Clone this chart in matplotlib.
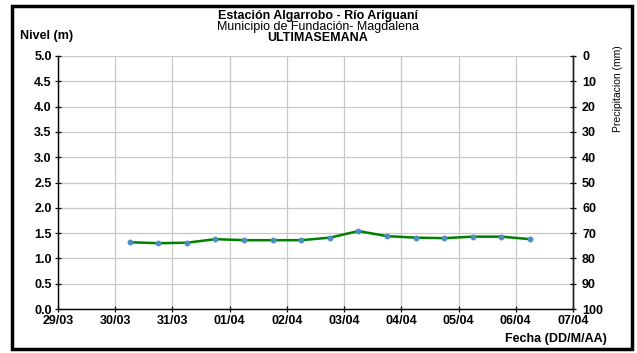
import matplotlib
matplotlib.use("Agg")
import matplotlib.pyplot as plt
import matplotlib.dates as mdates
from matplotlib.patches import Rectangle
import datetime as dt

plt.rcParams['font.family'] = ['Liberation Sans', 'DejaVu Sans']

# Data: level readings every 12 h
times = ["2023-03-30 06:00", "2023-03-30 18:00", "2023-03-31 06:00", "2023-03-31 18:00",
         "2023-04-01 06:00", "2023-04-01 18:00", "2023-04-02 06:00", "2023-04-02 18:00",
         "2023-04-03 06:00", "2023-04-03 18:00", "2023-04-04 06:00", "2023-04-04 18:00",
         "2023-04-05 06:00", "2023-04-05 18:00", "2023-04-06 06:00"]
nivel = [1.32, 1.30, 1.31, 1.38, 1.36, 1.36, 1.36, 1.41, 1.54, 1.44, 1.41, 1.40, 1.43, 1.43, 1.38]
x_ticks = ["2023-03-29", "2023-03-30", "2023-03-31", "2023-04-01", "2023-04-02",
           "2023-04-03", "2023-04-04", "2023-04-05", "2023-04-06", "2023-04-07"]
y_left_ticks = [0.0, 0.5, 1.0, 1.5, 2.0, 2.5, 3.0, 3.5, 4.0, 4.5, 5.0]
y_right_ticks = [0, 10, 20, 30, 40, 50, 60, 70, 80, 90, 100]

t = [dt.datetime.strptime(s, "%Y-%m-%d %H:%M") for s in times]
xt = [dt.datetime.strptime(s, "%Y-%m-%d") for s in x_ticks]

FS = 9

fig = plt.figure(figsize=(6.37, 3.53), dpi=100)
ax = fig.add_axes([58/637, 1-309/353, (573-58)/637, (309-56)/353])

ax.plot(t, nivel, color='#008000', lw=1.8, zorder=3)
ax.plot(t, nivel, ls='none', marker='o', ms=3.2, mfc='#4a8fc0', mec='#4a8fc0', zorder=4)

ax.set_xlim(xt[0], xt[-1])
ax.set_ylim(0, 5)
ax.set_xticks(xt)
ax.xaxis.set_major_formatter(mdates.DateFormatter('%d/%m'))
ax.set_yticks(y_left_ticks)
ax.set_yticklabels([f"{v:.1f}" for v in y_left_ticks])
ax.grid(True, color='#c8c8c8', lw=0.9)
ax.set_axisbelow(True)
ax.spines['top'].set_visible(False)
for s in ['left', 'bottom', 'right']:
    ax.spines[s].set_linewidth(1.0)
    ax.spines[s].set_color('#222222')
ax.tick_params(axis='both', direction='inout', length=5, width=0.9, labelsize=FS, pad=2)
for lab in ax.get_xticklabels() + ax.get_yticklabels():
    lab.set_fontweight('bold')

ax2 = ax.twinx()
ax2.set_ylim(100, 0)
ax2.set_yticks(y_right_ticks)
ax2.tick_params(axis='y', direction='inout', length=5, width=0.9, labelsize=FS, pad=4)
for lab in ax2.get_yticklabels():
    lab.set_fontweight('bold')
ax2.spines['top'].set_visible(False)
ax2.spines['right'].set_linewidth(1.0)
ax2.spines['right'].set_color('#222222')

fig.text(318/637, 1-16/353, "Estación Algarrobo - Río Ariguaní", ha='center', va='center',
         fontsize=FS, fontweight='bold')
fig.text(318/637, 1-27/353, "Municipio de Fundación- Magdalena", ha='center', va='center',
         fontsize=FS)
fig.text(318/637, 1-38/353, "ULTIMASEMANA", ha='center', va='center',
         fontsize=FS, fontweight='bold')
fig.text(20/637, 1-36/353, "Nivel (m)", ha='left', va='center', fontsize=FS, fontweight='bold')
fig.text(618/637, 1-89/353, "Precipitacion (mm)", ha='center', va='center', rotation=90,
         fontsize=7.5)
fig.text(607/637, 1-339/353, "Fecha (DD/M/AA)", ha='right', va='center',
         fontsize=FS, fontweight='bold')

fig.patches.append(Rectangle((11.5/637, 1-349/353), (632-11.5)/637, (349-5.5)/353,
                             transform=fig.transFigure, fill=False, ec='black', lw=2.5))

fig.savefig("out.png", dpi=100)
